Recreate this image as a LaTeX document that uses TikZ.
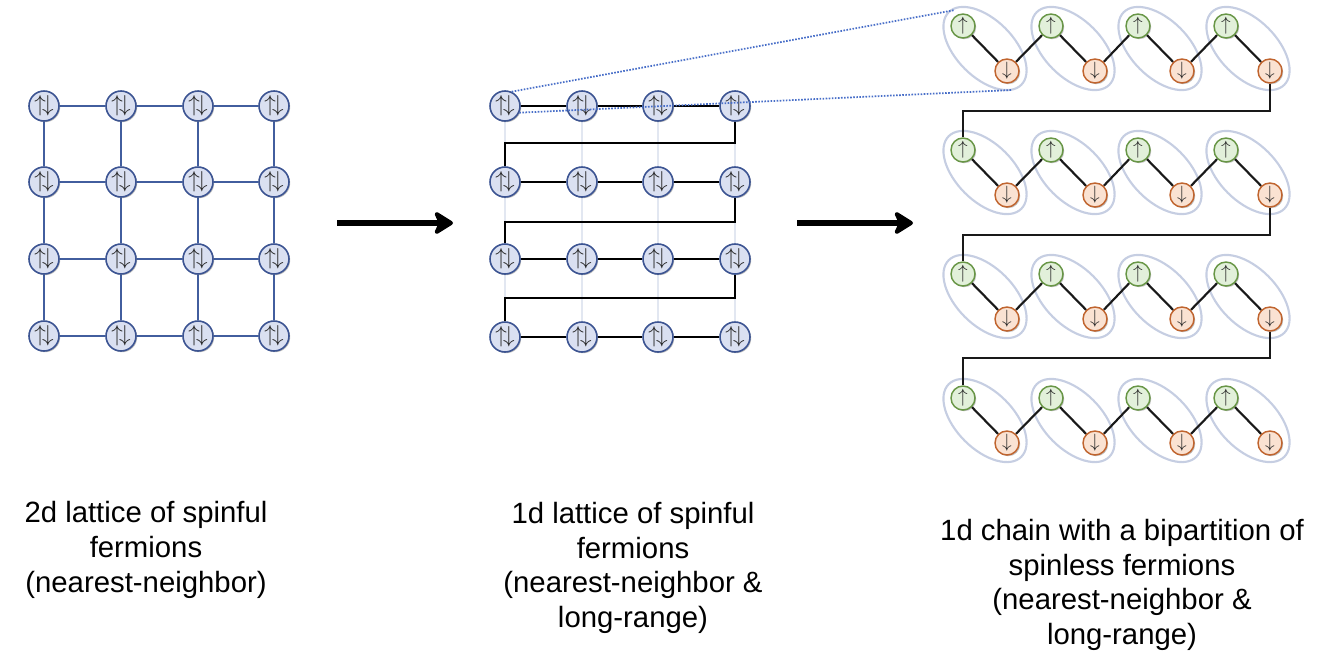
\documentclass[tikz,border=0pt]{standalone}
\usepackage{fontspec}
\setmainfont{Liberation Sans}
\usetikzlibrary{shadows,arrows.meta,shapes.geometric,calc}
\definecolor{spinfill}{RGB}{218,224,241}
\definecolor{spinborder}{RGB}{60,84,146}
\definecolor{latline}{RGB}{66,94,158}
\definecolor{upfill}{RGB}{226,240,218}
\definecolor{upborder}{RGB}{104,150,70}
\definecolor{dnfill}{RGB}{250,226,210}
\definecolor{dnborder}{RGB}{192,100,46}
\definecolor{ellcol}{RGB}{198,206,226}
\definecolor{faint}{RGB}{226,231,241}
\definecolor{dotblue}{RGB}{72,110,200}
\pgfdeclarelayer{bg}
\pgfsetlayers{bg,main}
\tikzset{
  shd/.style={drop shadow={shadow xshift=0.9pt,shadow yshift=-0.9pt,opacity=0.25,fill=black}},
  spin/.style={circle,draw=spinborder,fill=spinfill,line width=1.2pt,minimum size=22.5pt,inner sep=0pt,shd,text=black!85,font=\fontsize{16}{16}\selectfont},
  upn/.style={circle,draw=upborder,fill=upfill,line width=1.1pt,minimum size=18pt,inner sep=0pt,shd,text=black!85,font=\fontsize{14}{14}\selectfont},
  dnn/.style={circle,draw=dnborder,fill=dnfill,line width=1.1pt,minimum size=18pt,inner sep=0pt,shd,text=black!85,font=\fontsize{14}{14}\selectfont},
  bond/.style={draw=latline,line width=2pt},
  chain/.style={draw=black,line width=2pt},
  zig/.style={draw=black!90,line width=1.6pt},
  colline/.style={draw=faint,line width=1.5pt},
  pair/.style={ellipse,draw=ellcol,line width=1.6pt,minimum width=77pt,minimum height=43pt,inner sep=0pt,rotate=-45},
  zoomline/.style={draw=dotblue,line width=1.3pt,dash pattern=on 1.2pt off 1.1pt},
  bigarrow/.style={draw=black,line width=5.2pt,-{Stealth[length=17pt,width=21pt,inset=5pt,round]}},
  lbl/.style={align=center,font=\fontsize{22}{26}\selectfont}
}
\begin{document}
\begin{tikzpicture}[x=0.75pt,y=-0.75pt]
\useasboundingbox (0,0) rectangle (1321,668);
% ---------- 2d lattice ----------
\foreach \r/\yy in {1/106,2/182,3/259,4/336}{
  \foreach \c/\xx in {1/44,2/121,3/198,4/274}{
    \node[spin] (a\r\c) at (\xx,\yy) {${\uparrow}\!{\downarrow}$};
  }
}
\begin{pgfonlayer}{bg}
\foreach \r in {1,2,3,4}{
  \draw[bond] (a\r1) -- (a\r2) -- (a\r3) -- (a\r4);
  \draw[bond] (a1\r) -- (a2\r) -- (a3\r) -- (a4\r);
}
\end{pgfonlayer}
% ---------- 1d lattice ----------
\foreach \r/\yy in {1/106,2/182,3/259,4/337}{
  \foreach \c/\xx in {1/505,2/582,3/658,4/735}{
    \node[spin] (m\r\c) at (\xx,\yy) {${\uparrow}\!{\downarrow}$};
  }
}
\begin{pgfonlayer}{bg}
\foreach \c in {1,2,3,4}{
  \draw[colline] (m1\c) -- (m4\c);
}
\foreach \r in {1,2,3,4}{
  \draw[chain] (m\r1) -- (m\r2) -- (m\r3) -- (m\r4);
}
\draw[chain] (m14) -- ++(0,37) -| (m21);
\draw[chain] (m24) -- ++(0,40) -| (m31);
\draw[chain] (m34) -- ++(0,39) -| (m41);
\end{pgfonlayer}
% ---------- 1d chain ----------
\foreach \r/\yy in {1/26,2/150,3/274,4/398}{
  \foreach \c/\xx in {1/963,2/1051,3/1138,4/1226}{
    \node[upn] (u\r\c) at (\xx,\yy) {$\uparrow$};
    \node[dnn] (d\r\c) at (\xx+44,\yy+45) {$\downarrow$};
  }
}
\begin{pgfonlayer}{bg}
\foreach \r in {1,2,3,4}{
  \foreach \c in {1,2,3,4}{
    \node[pair] (e\r\c) at ($(u\r\c)!0.5!(d\r\c)$) {};
  }
}
\foreach \r in {1,2,3,4}{
  \draw[zig] (u\r1) -- (d\r1) -- (u\r2) -- (d\r2) -- (u\r3) -- (d\r3) -- (u\r4) -- (d\r4);
}
\draw[zig] (d14) -- ++(0,40) -| (u21);
\draw[zig] (d24) -- ++(0,40) -| (u31);
\draw[zig] (d34) -- ++(0,39) -| (u41);
\end{pgfonlayer}
% ---------- zoom lines ----------
\coordinate (zt) at (955,10);
\coordinate (zb) at (1012,90);
\draw[zoomline] (m11.65) -- (zt);
\draw[zoomline] (m11.-25) -- (zb);
% ---------- arrows ----------
\coordinate (a1s) at (337,223);
\coordinate (a1e) at (453,223);
\coordinate (a2s) at (797,223);
\coordinate (a2e) at (913,223);
\draw[bigarrow] (a1s) -- (a1e);
\draw[bigarrow] (a2s) -- (a2e);
% ---------- labels ----------
\node[lbl] (t1) at (146,550) {2d lattice of spinful\\fermions\\(nearest-neighbor)};
\node[lbl] (t2) at (633,568) {1d lattice of spinful\\fermions\\(nearest-neighbor \&\\long-range)};
\node[lbl] (t3) at (1122,585) {1d chain with a bipartition of\\spinless fermions\\(nearest-neighbor \&\\long-range)};
\end{tikzpicture}
\end{document}
